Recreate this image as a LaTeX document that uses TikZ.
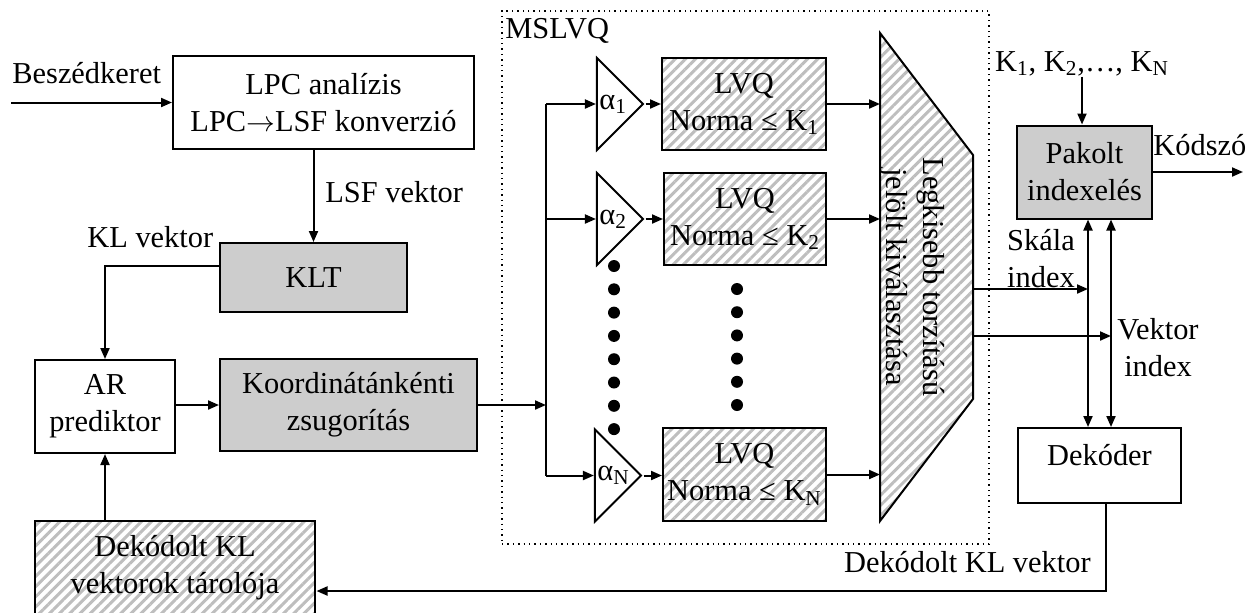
\documentclass[tikz,border=0pt]{standalone}
\usepackage{fontspec}
\setmainfont{Liberation Serif}
\usepackage{tikz}
\usetikzlibrary{arrows.meta,positioning,shapes.geometric,patterns.meta,calc}
\newcommand{\diagfont}{\fontsize{15.2}{18.5}\selectfont}
\definecolor{shade}{HTML}{CDCDCD}
\definecolor{stripe}{HTML}{BEBEBE}
\tikzset{
  blockbox/.style={
    rectangle, draw=black, line width=1pt,
    font=\diagfont, align=center, inner sep=2pt
  },
  shadebox/.style={blockbox, fill=shade},
  hatchbox/.style={blockbox,
    pattern={Lines[angle=45,distance=3.6pt,line width=1.5pt]},
    pattern color=stripe},
  ampbox/.style={
    isosceles triangle, isosceles triangle stretches,
    draw=black, line width=1pt, inner sep=0pt,
    minimum width=46pt, minimum height=23pt
  },
  dataarrow/.style={-{Triangle[length=5.5pt,width=4.5pt]}, line width=1pt},
  labelnode/.style={font=\diagfont, inner sep=0pt, align=center},
}

\begin{document}
\begin{tikzpicture}[x=0.5pt, y=-0.5pt, >={Triangle[length=5.5pt,width=4.5pt]}]
  \useasboundingbox (0,0) rectangle (1256,612);

  % Front end
  \node[blockbox, minimum width=150.5pt, minimum height=46.5pt] (lpc) at (323.5,102.5)
    {LPC analízis\\LPC$\rightarrow$LSF konverzió};
  \node[shadebox, minimum width=93.5pt, minimum height=34.5pt] (klt) at (313.5,277.5) {KLT};
  \node[blockbox, minimum width=70pt, minimum height=46.5pt] (ar) at (105,406.5) {AR\\prediktor};
  \node[shadebox, minimum width=128.5pt, minimum height=46pt] (koord) at (348.5,405)
    {Koordinátánkénti\\zsugorítás};
  \node[hatchbox, minimum width=140pt, minimum height=47pt] (store) at (175,568)
    {Dekódolt KL\\vektorok tárolója};

  \node[labelnode, anchor=base west] (beszed) at (12,83) {Beszédkeret};
  \node[labelnode, anchor=base west] (lsf) at (325,202) {LSF vektor};
  \node[labelnode, anchor=base west] (klv) at (87,247) {KL vektor};

  \coordinate (in) at (11,102.5);
  \draw[dataarrow] (in) -- (lpc);
  \draw[dataarrow] (lpc.south -| klt) -- (klt);
  \draw[dataarrow] ([yshift=5.75pt]klt.west) -| (ar);
  \draw[dataarrow] (store.north -| ar) -- (ar);
  \draw[dataarrow] (ar.east |- koord) -- (koord);

  % MSLVQ
  \node[draw, dotted, line width=0.7pt, minimum width=243.5pt, minimum height=266.5pt] (mslvq)
    at (745.5,277.5) {};
  \node[labelnode, anchor=base west] (msltitle) at (505,38) {MSLVQ};

  \node[ampbox] (a1) at (616,104) {};
  \node[ampbox] (a2) at (616,219) {};
  \node[ampbox] (aN) at (614,475.5) {};
  \node[labelnode, anchor=west] at ([xshift=1.5pt]a1.west) {α\textsubscript{1}};
  \node[labelnode, anchor=west] at ([xshift=1.5pt]a2.west) {α\textsubscript{2}};
  \node[labelnode, anchor=west] at ([xshift=1.5pt]aN.west) {α\textsubscript{N}};

  \node[hatchbox, minimum width=82pt, minimum height=46pt] (l1) at (744,104) {LVQ\\Norma ≤ K\textsubscript{1}};
  \node[hatchbox, minimum width=81pt, minimum height=46pt] (l2) at (745,219) {LVQ\\Norma ≤ K\textsubscript{2}};
  \node[hatchbox, minimum width=81.5pt, minimum height=46.5pt] (lN) at (744.5,474.5) {LVQ\\Norma ≤ K\textsubscript{N}};

  \foreach \k in {0,...,7}
    \fill (614,266+23.3*\k) circle (3pt);
  \foreach \k in {0,...,5}
    \fill (737,289+23.2*\k) circle (3pt);

  \coordinate (bus) at (546,405);
  \draw[dataarrow] (koord) -- (bus);
  \draw[line width=1pt] (bus |- a1.west) -- (bus |- aN.west);
  \foreach \a/\l in {a1/l1,a2/l2,aN/lN} {
    \draw[dataarrow] (bus |- \a.west) -- (\a.west);
    \draw[dataarrow] (\a.apex) -- (\l.west |- \a.apex);
  }

  % selector
  \coordinate (selL) at (880,0);
  \coordinate (selR) at (973,0);
  \draw[line width=1pt, pattern={Lines[angle=45,distance=3.6pt,line width=1.5pt]}, pattern color=stripe]
    (880,33) -- (973,155) -- (973,399) -- (880,521) -- cycle;
  \node[labelnode, rotate=-90] (sel) at (912,277) {Legkisebb torzítású\\jelölt kiválasztása};
  \foreach \l in {l1,l2,lN}
    \draw[dataarrow] (\l.east) -- (\l.east -| selL);

  % Index packing
  \node[shadebox, minimum width=67.5pt, minimum height=46.5pt] (pak) at (1084.5,172) {Pakolt\\indexelés};
  \node[blockbox, minimum width=81.5pt, minimum height=37.5pt, text height=11pt, text depth=11pt] (dek)
    at (1099.5,465.5) {Dekóder};
  \node[labelnode] (klist) at (1082,64) {K\textsubscript{1}, K\textsubscript{2},…, K\textsubscript{N}};
  \node[labelnode, anchor=base west] (kodszo) at (1153,155) {Kódszó};
  \node[labelnode] (skala) at (1041,259) {Skála\\index};
  \node[labelnode] (vektor) at (1158,348) {Vektor\\index};
  \node[labelnode, anchor=base east] (dkl) at (1091,572) {Dekódolt KL vektor};

  \coordinate (sk) at (1088,289);
  \coordinate (vk) at (1111,336);
  \coordinate (out) at (1243,172);
  \coordinate (fb) at (1106,591);

  \draw[dataarrow] (klist.south) -- (klist.south |- pak.north);
  \draw[dataarrow] (pak.east) -- (out);
  \draw[dataarrow] (selR |- sk) -- (sk);
  \draw[dataarrow] (selR |- vk) -- (vk);
  \draw[dataarrow, <->] (pak.south -| sk) -- (dek.north -| sk);
  \draw[dataarrow, <->] (pak.south -| vk) -- (dek.north -| vk);
  \draw[dataarrow] (dek.south -| fb) -- (fb) -- (fb -| store.east);
\end{tikzpicture}
\end{document}
